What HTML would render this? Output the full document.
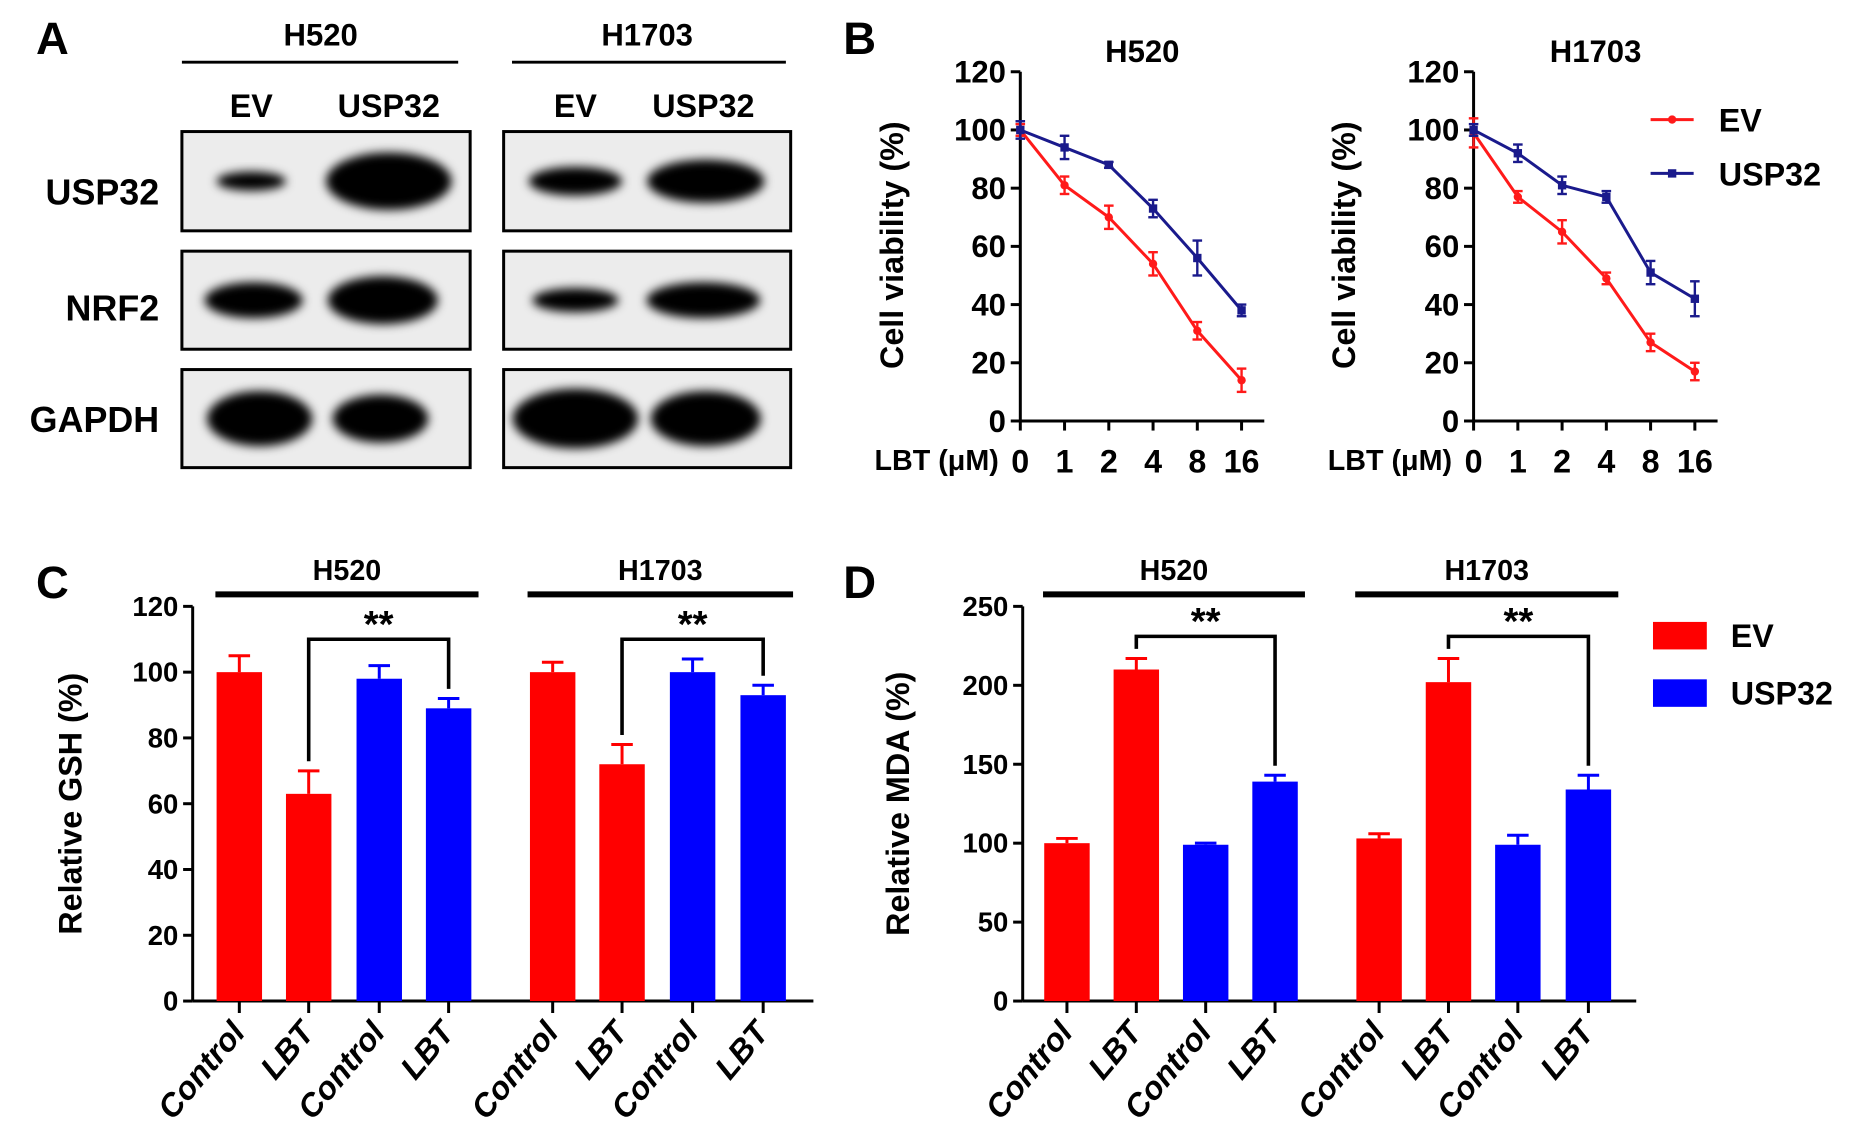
<!DOCTYPE html>
<html><head><meta charset="utf-8"><style>
html,body{margin:0;padding:0;background:#fff}
svg{display:block;font-family:"Liberation Sans",Arial,sans-serif;font-weight:bold}
</style></head><body>
<svg id="fig" width="1866" height="1135" viewBox="0 0 1560 949" xmlns="http://www.w3.org/2000/svg">
<defs><filter id="blur" x="-50%" y="-50%" width="200%" height="200%"><feGaussianBlur stdDeviation="4"/></filter></defs>
<g id="panelA">
<text x="30" y="45" font-size="38">A</text>
<text x="268" y="38" font-size="26" text-anchor="middle">H520</text>
<line x1="152" y1="52" x2="383" y2="52" stroke="#000" stroke-width="2.5"/>
<text x="541" y="38" font-size="26" text-anchor="middle">H1703</text>
<line x1="428" y1="52" x2="657" y2="52" stroke="#000" stroke-width="2.5"/>
<text x="210" y="98" font-size="27" text-anchor="middle">EV</text>
<text x="325" y="98" font-size="27" text-anchor="middle">USP32</text>
<text x="481" y="98" font-size="27" text-anchor="middle">EV</text>
<text x="588" y="98" font-size="27" text-anchor="middle">USP32</text>
<text x="133" y="171" font-size="30" text-anchor="end">USP32</text>
<text x="133" y="268" font-size="30" text-anchor="end">NRF2</text>
<text x="133" y="361" font-size="30" text-anchor="end">GAPDH</text>
<g id="blots"></g>
</g>
<g id="panelB">
<text x="705" y="45" font-size="38">B</text>
</g>
<g id="panelC">
<text x="30" y="500" font-size="38">C</text>
</g>
<g id="panelD">
<text x="705" y="500" font-size="38">D</text>
</g>
</svg>
<script>
// ---- Panel B data ----
const doses = ["0","1","2","4","8","16"];
const h520EV = [100,81,70,54,31,14];
const h520EVerr = [2,3,4,4,3,4];
const h520USP = [100,94,88,73,56,38];
const h520USPerr = [3,4,1,3,6,2];
const h1703EV = [99,77,65,49,27,17];
const h1703EVerr = [5,2,4,2,3,3];
const h1703USP = [100,92,81,77,51,42];
const h1703USPerr = [2,3,3,2,4,6];
const viabTicks = [0,20,40,60,80,100,120];
// ---- Panel C/D data ----
const barCats = ["Control","LBT","Control","LBT","Control","LBT","Control","LBT"];
const barGroups = ["EV","EV","USP32","USP32","EV","EV","USP32","USP32"];
const gshVals = [100,63,98,89,100,72,100,93];
const gshErr = [5,7,4,3,3,6,4,3];
const gshTicks = [0,20,40,60,80,100,120];
const mdaVals = [100,210,99,139,103,202,99,134];
const mdaErr = [3,7,1,4,3,15,6,9];
const mdaTicks = [0,50,100,150,200,250];

const NS="http://www.w3.org/2000/svg";
function el(tag,attrs,parent,txt){const e=document.createElementNS(NS,tag);for(const k in attrs)e.setAttribute(k,attrs[k]);if(txt!==undefined)e.textContent=txt;parent.appendChild(e);return e;}

// blots
const blots=document.getElementById('blots');
const boxes=[[152,393],[421,661]];
const rows=[[110,193],[210,292],[309,391]];
const bands=[
 [[[210,58,16],[325,105,48]],[[481,78,24],[590,98,36]]],
 [[[212,82,30],[320,92,40]],[[481,72,20],[588,95,30]]],
 [[[217,88,46],[318,80,40]],[[481,105,50],[590,92,46]]]
];
rows.forEach((r,ri)=>{boxes.forEach((b,bi)=>{
 const rc=el('rect',{x:b[0],y:r[0],width:b[1]-b[0],height:r[1]-r[0],fill:'#ececec',stroke:'#000','stroke-width':2.5},blots);
 
 
 bands[ri][bi].forEach(bd=>{const e=el('ellipse',{cx:bd[0],cy:(r[0]+r[1])/2,rx:bd[1]/2,ry:bd[2]/2,fill:'#000',filter:'url(#blur)'},blots);
 
 });
});});

// Panel B
function lineChart(ax0,title,ylabX,series){
 const g=document.getElementById('panelB');
 const y0=352,y120=60;const ys=v=>y0-(v/120)*(y0-y120);
 const xs=i=>ax0+i*37;
 el('text',{x:ax0+102,y:52,'font-size':26,'text-anchor':'middle',},g,title);
 el('line',{x1:ax0,y1:y120,x2:ax0,y2:y0,stroke:'#000','stroke-width':2.5},g);
 el('line',{x1:ax0,y1:y0,x2:ax0+204,y2:y0,stroke:'#000','stroke-width':2.5},g);
 viabTicks.forEach(t=>{el('line',{x1:ax0-8,y1:ys(t),x2:ax0,y2:ys(t),stroke:'#000','stroke-width':2.5},g);
  const tx=el('text',{x:ax0-12,y:ys(t)+9,'font-size':26,'text-anchor':'end'},g,t);
  
  });
 doses.forEach((d,i)=>{el('line',{x1:xs(i),y1:y0,x2:xs(i),y2:y0+8,stroke:'#000','stroke-width':2.5},g);
  const tx=el('text',{x:xs(i),y:395,'font-size':27,'text-anchor':'middle'},g,d);
  
  });
 el('text',{x:ax0-18,y:393,'font-size':24,'text-anchor':'end',},g,'LBT (μM)');
 el('text',{x:ylabX,y:205,'font-size':27,'text-anchor':'middle',transform:`rotate(-90 ${ylabX} 205)`,},g,'Cell viability (%)');
 series.forEach(s=>{
  const pts=s.v.map((v,i)=>xs(i)+','+ys(v)).join(' ');
  const pl=el('polyline',{points:pts,fill:'none',stroke:s.c,'stroke-width':2.5},g);
  
  
  s.v.forEach((v,i)=>{const x=xs(i);
   el('line',{x1:x,y1:ys(v+s.e[i]),x2:x,y2:ys(v-s.e[i]),stroke:s.c,'stroke-width':2},g);
   el('line',{x1:x-4,y1:ys(v+s.e[i]),x2:x+4,y2:ys(v+s.e[i]),stroke:s.c,'stroke-width':2},g);
   el('line',{x1:x-4,y1:ys(v-s.e[i]),x2:x+4,y2:ys(v-s.e[i]),stroke:s.c,'stroke-width':2},g);
   let m;
   if(s.n==='ev') m=el('circle',{cx:x,cy:ys(v),r:3.5,fill:s.c},g);
   else m=el('rect',{x:x-3.5,y:ys(v)-3.5,width:7,height:7,fill:s.c},g);
   
   });
 });
}
lineChart(853,'H520',755,[{v:h520EV,e:h520EVerr,c:'#ff1a1a',n:'ev'},{v:h520USP,e:h520USPerr,c:'#1a1a8c',n:'usp32'}]);
lineChart(1232,'H1703',1133,[{v:h1703EV,e:h1703EVerr,c:'#ff1a1a',n:'ev'},{v:h1703USP,e:h1703USPerr,c:'#1a1a8c',n:'usp32'}]);
(function(){const g=document.getElementById('panelB');
 el('line',{x1:1380,y1:100,x2:1416,y2:100,stroke:'#ff1a1a','stroke-width':2.5},g);
 el('circle',{cx:1398,cy:100,r:3.5,fill:'#ff1a1a'},g);
 el('text',{x:1437,y:110,'font-size':27,},g,'EV');
 el('line',{x1:1380,y1:145,x2:1416,y2:145,stroke:'#1a1a8c','stroke-width':2.5},g);
 el('rect',{x:1394.5,y:141.5,width:7,height:7,fill:'#1a1a8c'},g);
 el('text',{x:1437,y:155,'font-size':27,},g,'USP32');
})();

// Bars
function barChart(gid,ax0,axEnd,centers,vals,errs,ticks,ymax,ylab,ylabX,grp,bracket){
 const g=document.getElementById(gid);
 const y0=837,yt=507;const ys=v=>y0-(v/ymax)*(y0-yt);
 el('line',{x1:ax0,y1:yt,x2:ax0,y2:y0,stroke:'#000','stroke-width':2.5},g);
 el('line',{x1:ax0,y1:y0,x2:axEnd,y2:y0,stroke:'#000','stroke-width':2.5},g);
 ticks.forEach(t=>{el('line',{x1:ax0-8,y1:ys(t),x2:ax0,y2:ys(t),stroke:'#000','stroke-width':2.5},g);
  const tx=el('text',{x:ax0-12,y:ys(t)+8,'font-size':23,'text-anchor':'end'},g,t);
  
  });
 el('text',{x:ylabX,y:672,'font-size':27,'text-anchor':'middle',transform:`rotate(-90 ${ylabX} 672)`,},g,ylab);
 vals.forEach((v,i)=>{const c=centers[i];const col=barGroups[i]==='EV'?'#ff0000':'#0000ff';
  const b=el('rect',{x:c-19,y:ys(v),width:38,height:y0-ys(v),fill:col},g);
  
  
  el('line',{x1:c,y1:ys(v),x2:c,y2:ys(v+errs[i]),stroke:col,'stroke-width':2.5},g);
  el('line',{x1:c-9,y1:ys(v+errs[i]),x2:c+9,y2:ys(v+errs[i]),stroke:col,'stroke-width':2.5},g);
  el('line',{x1:c,y1:y0,x2:c,y2:y0+10,stroke:'#000','stroke-width':2.5},g);
  const tx=el('text',{x:c+6,y:y0+27,'font-size':27,'font-style':'italic','text-anchor':'end',transform:`rotate(-50 ${c+6} ${y0+27})`},g,barCats[i]);
  
  
 });
 grp.forEach(gr=>{el('line',{x1:gr[0],y1:497,x2:gr[1],y2:497,stroke:'#000','stroke-width':5},g);
  const tx=el('text',{x:(gr[0]+gr[1])/2,y:485,'font-size':24,'text-anchor':'middle'},g,gr[2]);
  
  });
 bracket.forEach(br=>{const a=centers[br[0]],b=centers[br[1]];
  const by=ys(br[2]);
  el('polyline',{points:`${a},${ys(vals[br[0]]+errs[br[0]])-8} ${a},${by} ${b},${by} ${b},${ys(vals[br[1]]+errs[br[1]])-8}`,fill:'none',stroke:'#000','stroke-width':3},g);
  const tx=el('text',{x:(a+b)/2,y:by-2,'font-size':32,'text-anchor':'middle'},g,'**');
  
  });
}
barChart('panelC',161,680,[200,258,317,375,462,520,579,638],gshVals,gshErr,gshTicks,120,'Relative GSH (%)',68,[[180,400,'H520'],[441,663,'H1703']],[[1,3,110],[5,7,110]]);
barChart('panelD',855,1368,[892,950,1008,1066,1153,1211,1269,1328],mdaVals,mdaErr,mdaTicks,250,'Relative MDA (%)',760,[[872,1091,'H520'],[1133,1353,'H1703']],[[1,3,231],[5,7,231]]);
(function(){const g=document.getElementById('panelD');
 el('rect',{x:1382,y:520,width:45,height:23,fill:'#ff0000',},g);
 el('text',{x:1447,y:541,'font-size':27,},g,'EV');
 el('rect',{x:1382,y:568,width:45,height:23,fill:'#0000ff',},g);
 el('text',{x:1447,y:589,'font-size':27,},g,'USP32');
})();
</script>
</body></html>
